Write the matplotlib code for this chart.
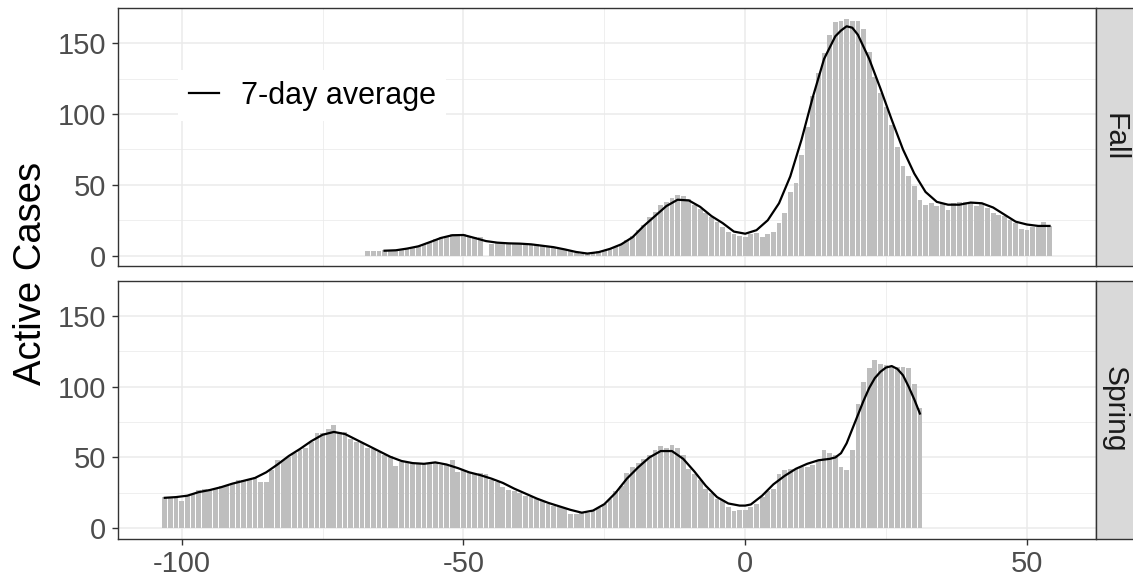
import matplotlib.pyplot as plt
from matplotlib.patches import Rectangle

plt.rcParams["font.family"] = ["Liberation Sans", "DejaVu Sans"]
plt.rcParams["axes.unicode_minus"] = False

# daily active cases, days relative to start of term
fall_days = list(range(-67, 55))
fall_cases = [3, 3, 3, 4, 3, 4, 4, 5, 6, 7, 8, 10, 12, 13, 13, 15, 15, 15, 14, 13,
              13, 0, 8, 9, 10, 9, 9, 9, 8, 8, 8, 7, 7, 6, 5, 4, 3, 2, 1, 2,
              2, 3, 4, 5, 6, 8, 11, 14, 18, 22, 27, 31, 36, 38, 41, 43, 42, 40, 36, 33,
              30, 27, 24, 20, 17, 15, 14, 13,
              15, 16, 13, 15, 17, 23, 30, 45, 51, 71, 91, 113, 129, 143, 156, 165, 166, 167,
              166, 166, 160, 144, 126, 115, 105, 92, 77, 63, 56, 49, 39, 36, 37, 35, 37, 32,
              37, 38, 38, 37, 35, 37, 34, 30, 29, 28, 25, 23, 19, 18, 20, 20, 24, 21]

fall_avg_days = [-64, -62, -60, -58, -56, -54, -52, -50, -48, -46, -44, -42, -40, -38, -36,
                 -34, -32, -30, -28, -26, -24, -22, -20, -18, -16, -14, -12, -10, -8, -6,
                 -4, -2, 0, 2, 4, 6, 8, 10, 12, 14, 16, 17, 18, 19, 20, 22, 24, 26, 28, 30,
                 32, 34, 36, 38, 40, 42, 44, 46, 48, 50, 52, 54]
fall_avg = [3.5, 3.8, 5, 6.6, 9.5, 12.5, 14.4, 14.6, 12.5, 10.3, 9.2, 8.7, 8.5, 8, 7,
            6, 4.4, 2.6, 1.5, 2.5, 4.8, 8, 13, 21, 28, 35, 39.5, 39, 34.5, 28,
            23, 17, 15.5, 18, 25, 37, 56, 82, 112, 139, 155, 159, 162, 161, 156, 139, 118,
            96, 75, 58, 45, 38, 36, 36, 37.5, 37, 34, 29, 24, 22, 21, 21]

spring_days = list(range(-103, 32))
spring_cases = [22, 22, 22, 19, 23, 24, 27, 28, 27, 28, 30, 30, 32, 34, 34, 35, 36, 33, 33, 41,
                48, 48, 50, 53, 55, 57, 61, 67, 67, 70, 73, 68, 68, 63, 61, 60, 57, 56, 54, 52,
                51, 44, 47, 46, 46, 46, 46, 46, 46, 45, 45, 48, 40, 41, 40, 39, 39, 38, 34, 33,
                29, 27, 26, 25, 23, 22, 21, 19, 17, 16, 15, 14, 10, 10, 11, 11, 12, 14, 17, 21,
                26, 30, 39, 43, 46, 49, 52, 55, 58, 57, 59, 57, 52, 42, 38, 34, 28, 25, 21, 20,
                15, 12, 13, 13, 15, 17, 22, 26, 28, 38, 41, 42, 42, 43, 43, 45, 48, 55, 53, 52,
                43, 41, 55, 88, 103, 113, 119, 116, 115, 114, 114, 114, 113, 102, 85]

spring_avg_days = [-103, -101, -99, -97, -95, -93, -91, -89, -87, -85, -83, -81, -79, -77,
                   -75, -73, -71, -69, -67, -65, -63, -61, -59, -57, -55, -53, -51, -49,
                   -47, -45, -43, -41, -39, -37, -35, -33, -31, -29, -27, -25, -23, -21,
                   -19, -17, -15, -13, -11, -9, -7, -5, -3, -1, 0, 1, 3, 5, 7, 9, 11, 13,
                   15, 16, 17, 18, 19, 20, 21, 22, 23, 24, 25, 26, 27, 28, 29, 30, 31]
spring_avg = [21.5, 22, 23, 25.5, 27, 29, 31.5, 33.5, 35.5, 39.5, 45, 51, 56, 61.5,
              66, 68, 66.5, 62.5, 58.5, 54.5, 50.5, 47.5, 46, 45.5, 46.5, 45, 42.5, 39.5,
              37.5, 35, 32, 28, 24.5, 21, 18, 15.5, 13, 11, 12.5, 17, 25, 35,
              43, 50, 54.5, 54.5, 49, 40, 30, 22, 17.5, 16, 16, 16.8, 23, 31, 37, 42, 45.5, 48,
              49, 50, 53, 60, 70, 80, 90, 99, 106, 110.5, 113.5, 114.5, 112.5, 108, 100, 91, 81]

W, H = 1133, 579
fig = plt.figure(figsize=(W / 100, H / 100), dpi=100)

panels = [
    ("Fall", fall_days, fall_cases, fall_avg_days, fall_avg, 8.3, 266.0),
    ("Spring", spring_days, spring_cases, spring_avg_days, spring_avg, 280.8, 538.6),
]
left, right = 118, 1096

axes = []
for name, days, cases, adays, avg, top, bottom in panels:
    ax = fig.add_axes([left / W, (H - bottom) / H, (right - left) / W, (bottom - top) / H])
    ax.bar(days, cases, width=0.85, color="#BEBEBE", zorder=2)
    ax.plot(adays, avg, color="black", lw=1.6, zorder=3, label="7-day average")
    ax.set_xlim(-111.3, 62.25)
    ax.set_ylim(-7.3, 174.7)
    ax.set_xticks([-100, -50, 0, 50])
    ax.set_xticks([-75, -25, 25], minor=True)
    ax.set_yticks([0, 50, 100, 150])
    ax.set_yticks([25, 75, 125], minor=True)
    ax.set_axisbelow(True)
    ax.grid(which="major", color="#EBEBEB", lw=1.1)
    ax.grid(which="minor", color="#EBEBEB", lw=0.55)
    for sp in ax.spines.values():
        sp.set_color("#333333")
        sp.set_linewidth(1.0)
    ax.tick_params(which="major", direction="out", length=4.5, width=1, color="#333333",
                   labelsize=21, labelcolor="#4D4D4D", pad=4)
    ax.tick_params(which="minor", length=0)

    # facet strip on the right
    fig.patches.append(Rectangle((right / W, (H - bottom) / H), (W - right + 2) / W,
                                 (bottom - top) / H, transform=fig.transFigure,
                                 facecolor="#D9D9D9", edgecolor="#333333", lw=1.0))
    fig.text((right + (W - right) / 2) / W, (H - (top + bottom) / 2) / H, name,
             rotation=-90, ha="center", va="center", fontsize=21.5, color="#1A1A1A")
    axes.append(ax)

axes[0].tick_params(axis="x", bottom=False, labelbottom=False)

leg = axes[0].legend(loc="upper left", bbox_to_anchor=(178 / W, (H - 70) / H),
                     bbox_transform=fig.transFigure, fontsize=22, frameon=True,
                     fancybox=False, facecolor="white", edgecolor="none", framealpha=1,
                     handlelength=1.0, handletextpad=0.7, borderpad=0.35, borderaxespad=0)

fig.text(31 / W, (H - 273.5) / H, "Active Cases", rotation=90, ha="center", va="center",
         fontsize=27.5, color="black")

fig.savefig("out.png", dpi=100)
